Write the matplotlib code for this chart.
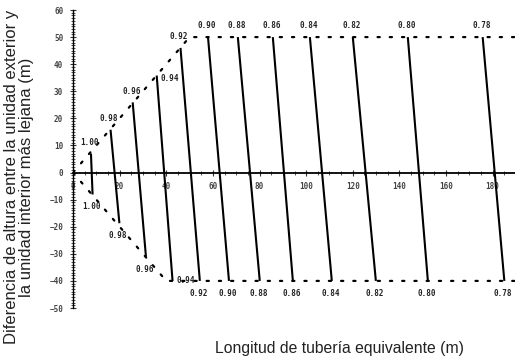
import matplotlib
matplotlib.use("Agg")
import matplotlib.pyplot as plt
from matplotlib.ticker import MultipleLocator

# capacity correction ratio for each line
ratios = ["1.00", "0.98", "0.96", "0.94", "0.92", "0.90", "0.88",
          "0.86", "0.84", "0.82", "0.80", "0.78"]
# upper / lower end of each line (equivalent length m, height difference m)
top_x = [7.7, 16.1, 25.6, 35.9, 46.1, 57.9, 70.7, 85.7, 101.6, 120.0, 143.6, 175.7]
top_y = [7.0, 15.8, 25.9, 35.8, 46.0, 50, 50, 50, 50, 50, 50, 50]
bot_x = [8.4, 19.9, 31.3, 42.7, 54.4, 66.9, 80.1, 94.3, 111.0, 129.9, 152.2, 185.0]
bot_y = [-8.1, -18.7, -31.2, -40, -40, -40, -40, -40, -40, -40, -40, -40]

# dotted limits of the usable range
upper_x = [0, 50, 190]
upper_y = [0, 50, 50]
lower_x = [0, 40, 190]
lower_y = [0, -40, -40]

fig = plt.figure(figsize=(5.15, 3.63), dpi=100)
ax = fig.add_axes([73 / 515, 55 / 363, 443 / 515, 298 / 363])

dots = dict(color="black", lw=1.6, ls=(0, (1.0, 4.5)), solid_capstyle="round",
            dash_capstyle="round")
ax.plot(upper_x, upper_y, **dots)
ax.plot(lower_x, lower_y, **dots)

lab = dict(fontsize=5.5, fontweight="bold", family="DejaVu Sans Mono", color="#222222",
           textcoords="offset points")
for r, x0, y0, x1, y1 in zip(ratios, top_x, top_y, bot_x, bot_y):
    ax.plot([x0, x1], [y0, y1], color="black", lw=1.5, solid_capstyle="butt")
    if r == "0.94":
        ax.annotate(r, (x0, y0), xytext=(3, -2), ha="left", va="center", **lab)
        ax.annotate(r, (x1, y1), xytext=(3, 0), ha="left", va="center", **lab)
    else:
        ax.annotate(r, (x0, y0), xytext=(-1, 8), ha="center", va="center", **lab)
        ax.annotate(r, (x1, y1), xytext=(-1, -9), ha="center", va="center", **lab)

ax.set_xlim(0, 190)
ax.set_ylim(-50, 60)
ax.spines["top"].set_visible(False)
ax.spines["right"].set_visible(False)
ax.spines["bottom"].set_position(("data", 0))
ax.spines["bottom"].set_linewidth(1.3)
ax.spines["left"].set_linewidth(1.0)

ax.xaxis.set_major_locator(MultipleLocator(20))
ax.xaxis.set_minor_locator(MultipleLocator(5))
ax.yaxis.set_major_locator(MultipleLocator(10))
ax.yaxis.set_minor_locator(MultipleLocator(1))
ax.tick_params(which="major", direction="inout", length=4, width=0.8, colors="#333333",
               labelsize=5.5, pad=5)
ax.tick_params(which="minor", direction="inout", length=2.5, width=0.6, color="#333333")
for t in ax.get_xticklabels() + ax.get_yticklabels():
    t.set_family("DejaVu Sans Mono")
    t.set_fontweight("bold")
    t.set_color("#444444")

fig.text(19 / 515, 1 - 177 / 363,
         "Diferencia de altura entre la unidad exterior y\nla unidad interior más lejana (m)",
         rotation=90, ha="center", va="center", multialignment="center",
         fontsize=12, family="Liberation Sans", color="#222222", linespacing=1.0)
fig.text(339 / 515, 1 - 348 / 363, "Longitud de tubería equivalente (m)",
         ha="center", va="center", fontsize=11.3, family="Liberation Sans", color="#222222")

fig.savefig("out.png", dpi=100)
